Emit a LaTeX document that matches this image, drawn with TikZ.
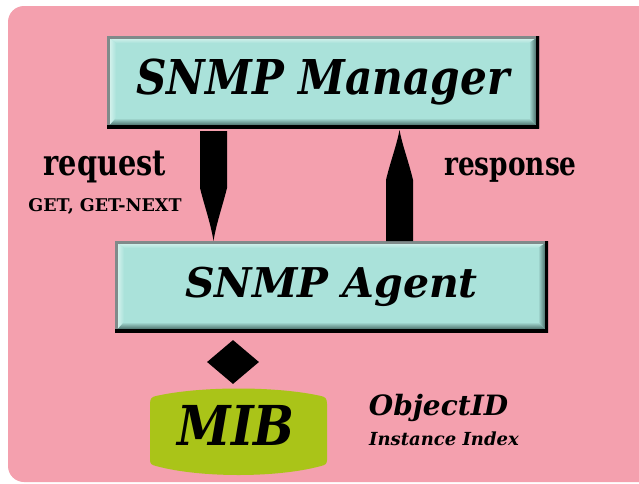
\documentclass[tikz,border=0pt]{standalone}
\usepackage{fontspec}
\setmainfont{DejaVu Serif}
\newfontfamily\narrowfont[FakeStretch=0.8]{DejaVu Serif}
\newfontfamily\tightfont[FakeStretch=0.88]{DejaVu Serif}
\usetikzlibrary{shapes.geometric,calc}

\definecolor{bgpink}{RGB}{244,160,174}
\definecolor{face}{RGB}{170,226,218}
\definecolor{hilite}{RGB}{228,248,244}
\definecolor{shadow}{RGB}{38,66,62}
\definecolor{edgegrey}{RGB}{128,138,138}
\definecolor{mibgreen}{RGB}{170,196,24}

\tikzset{
  % raised, bevelled button
  bevelbox/.style={rectangle, fill=face, inner sep=0pt,
    font=\tightfont\bfseries\itshape\fontsize{48}{50}\selectfont,
    path picture={
      \coordinate (nw) at (path picture bounding box.north west);
      \coordinate (ne) at (path picture bounding box.north east);
      \coordinate (sw) at (path picture bounding box.south west);
      \coordinate (se) at (path picture bounding box.south east);
      \shade[top color=hilite, bottom color=face]
        (nw) -- (ne) -- ($(ne)+(-9,7)$) -- ($(nw)+(9,7)$) -- cycle;
      \shade[left color=hilite, right color=face]
        (nw) -- ($(nw)+(9,7)$) -- ($(sw)+(9,-10)$) -- (sw) -- cycle;
      \shade[left color=face, right color=shadow]
        (ne) -- ($(ne)+(-10,7)$) -- ($(se)+(-10,-10)$) -- (se) -- cycle;
      \shade[top color=face, bottom color=shadow]
        (sw) -- ($(sw)+(9,-10)$) -- ($(se)+(-10,-10)$) -- (se) -- cycle;
      \draw[edgegrey, line width=5pt] (sw) -- (nw) -- (ne);
      \draw[black, line width=6pt] (ne) -- (se) -- (sw);
    }},
  msglabel/.style={anchor=base, inner sep=0pt},
  smalllabel/.style={anchor=base, inner sep=0pt},
  pointer/.style={fill=black},
}

\begin{document}
\begin{tikzpicture}[x=1pt, y=-1pt]
  \useasboundingbox (0,0) rectangle (639,483);
  \fill[white] (0,0) rectangle (639,483);
  % pink panel
  \fill[bgpink, rounded corners=16pt] (8,6) rectangle (660,482);

  % the two entities
  \node[bevelbox, minimum width=432pt, minimum height=92pt] (mgr) at (323,82)
    {SNMP Manager};
  \node[bevelbox, minimum width=433pt, minimum height=91pt,
        font=\bfseries\itshape\fontsize{41}{43}\selectfont] (agent) at (331.5,286.5)
    {SNMP Agent};

  % request pointer: manager -> agent
  \coordinate (rq) at (213.5,131);
  \coordinate (rqtip) at (agent.north -| rq);
  \fill[pointer] ($(rq)+(-13.5,0)$) -- ($(rq)+(13.5,0)$) -- ($(rq)+(13.5,57)$)
    .. controls ($(rq)+(9,75)$) and ($(rqtip)+(3,-18)$) .. (rqtip)
    .. controls ($(rqtip)+(-3,-18)$) and ($(rq)+(-9,75)$) .. ($(rq)+(-13.5,57)$) -- cycle;

  % response pointer: agent -> manager
  \coordinate (rs) at (399.5,241);
  \coordinate (rstip) at (399.5,130);
  \fill[pointer] ($(rs)+(-13.5,0)$) -- ($(rs)+(13.5,0)$) -- ($(rs)+(13.5,-61)$)
    .. controls ($(rs)+(9,-80)$) and ($(rstip)+(3,16)$) .. (rstip)
    .. controls ($(rstip)+(-3,16)$) and ($(rs)+(-9,-80)$) .. ($(rs)+(-13.5,-61)$) -- cycle;

  % labels of the exchange
  \node[msglabel, font=\narrowfont\bfseries\fontsize{36}{38}\selectfont] (req) at (105,175)
    {request};
  \node[smalllabel, font=\bfseries\fontsize{17.5}{19}\selectfont] (ops) at (105,211)
    {GET, GET-NEXT};
  \node[msglabel, font=\narrowfont\bfseries\fontsize{33}{35}\selectfont] (resp) at (510.5,175)
    {response};

  % link from agent to its MIB
  \node[diamond, fill=black, minimum width=52pt, minimum height=44pt,
        inner sep=0pt] (link) at (233,362) {};

  % MIB store
  \fill[mibgreen] (150,404) .. controls (150,398) and (152,397) .. (156,396)
    .. controls (200,386) and (277,386) .. (321,396)
    .. controls (325,397) and (327,398) .. (327,404)
    -- (327,460)
    .. controls (327,464) and (325,465) .. (321,466)
    .. controls (277,478) and (200,478) .. (156,466)
    .. controls (152,465) and (150,464) .. (150,460) -- cycle;
  \node[anchor=base, inner sep=0pt,
        font=\tightfont\bfseries\itshape\fontsize{55}{57}\selectfont] (mib) at (236,445) {MIB};

  % MIB contents
  \node[smalllabel, font=\bfseries\itshape\fontsize{28}{30}\selectfont] (oid) at (438.5,415)
    {ObjectID};
  \node[smalllabel, font=\bfseries\itshape\fontsize{18}{20}\selectfont] (idx) at (444,445)
    {Instance Index};
\end{tikzpicture}
\end{document}
